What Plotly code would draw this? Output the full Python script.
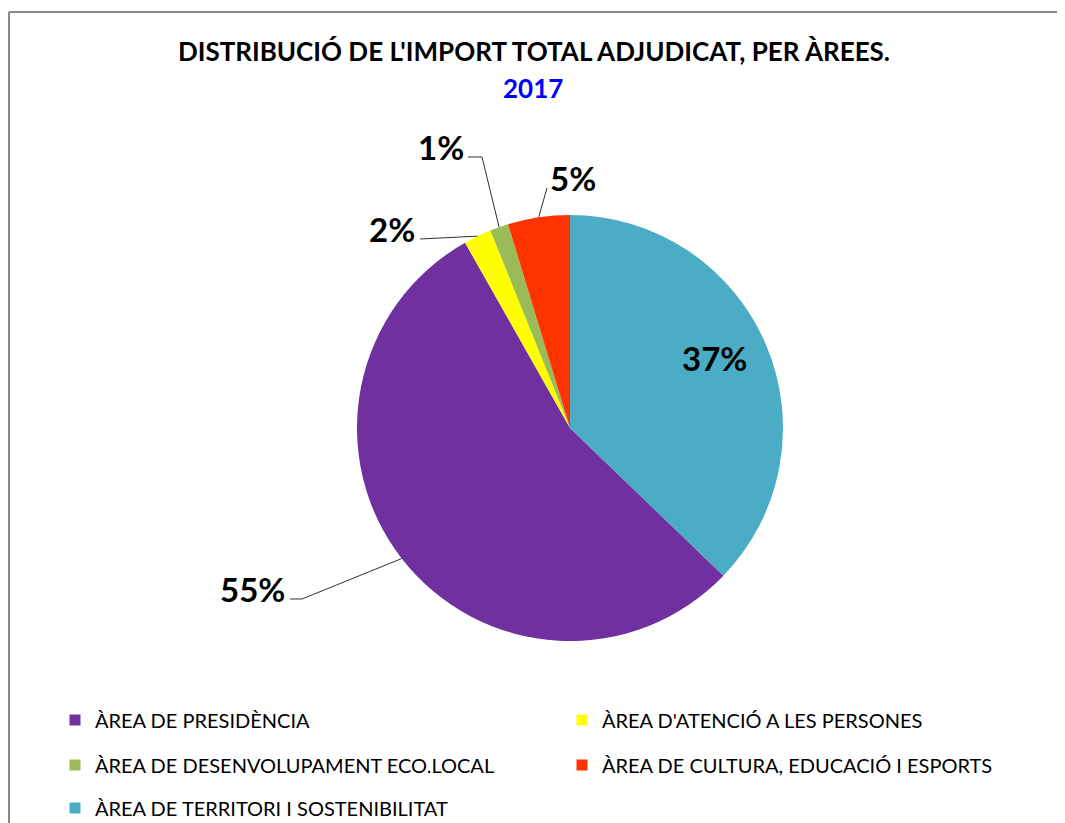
import math
import plotly.graph_objects as go

# ---------------- data ----------------
categories = [
    "ÀREA DE PRESIDÈNCIA",
    "ÀREA D'ATENCIÓ A LES PERSONES",
    "ÀREA DE DESENVOLUPAMENT ECO.LOCAL",
    "ÀREA DE CULTURA, EDUCACIÓ I ESPORTS",
    "ÀREA DE TERRITORI I SOSTENIBILITAT",
]
shares = [54.6, 2.1, 1.4, 4.7, 37.2]
colors = ["#7030A0", "#FFFF00", "#9BBB59", "#FF3300", "#4BACC6"]
title_text = "DISTRIBUCIÓ DE L'IMPORT TOTAL ADJUDICAT, PER ÀREES."
year_text = "2017"

# ---------------- layout constants (page pixels) ----------------
OFF = 8                      # default page body margin
W, H = 1065 - OFF, 823 - OFF
CX, CY, R = 570, 428, 213
FONT = "Lato"

def px(x):
    return (x - OFF) / W

def py(y):
    return 1 - (y - OFF) / H

total = sum(shares)
rotation = 360 * shares[-1] / total  # last slice ends at 12 o'clock

fig = go.Figure()
fig.add_trace(go.Pie(
    labels=categories,
    values=shares,
    marker=dict(colors=colors, line=dict(width=0)),
    sort=False,
    direction="clockwise",
    rotation=rotation,
    textinfo="none",
    hoverinfo="label+percent",
    showlegend=False,
    domain=dict(x=[px(CX - R), px(CX + R)], y=[py(CY + R), py(CY - R)]),
))

# legend entries (two per row, three rows)
legend_ids = ["legend", "legend", "legend2", "legend2", "legend3"]
for name, col, lg in zip(categories, colors, legend_ids):
    fig.add_trace(go.Scatter(
        x=[None], y=[None], mode="markers", name=name,
        marker=dict(symbol="square", size=11, color=col),
        legend=lg, showlegend=True,
    ))

# percentage label positions and leader line starts (page pixels)
label_pos = [(252, 589), (392, 229), (441, 147), (573, 178), (714, 358)]
leader_starts = [[(290, 599), (302, 599)], [(420, 239)], [(468, 157), (482, 157)], [(547, 188)], None]

annotations = []
shapes = []
start = rotation
for v, pos, lead in zip(shares, label_pos, leader_starts):
    ang = start + 360 * v / total / 2
    start += 360 * v / total
    pct = f"{v / total:.0%}"
    annotations.append(dict(
        x=px(pos[0]), y=py(pos[1]), xref="paper", yref="paper",
        text=f"<b>{pct}</b>", showarrow=False,
        xanchor="center", yanchor="middle",
        font=dict(family=FONT, size=33, color="#000000"),
    ))
    if lead:
        a = math.radians(ang)
        ex = CX + R * math.sin(a)
        ey = CY - R * math.cos(a)
        pts = lead + [(ex, ey)]
        path = "M " + " L ".join(f"{px(x):.5f},{py(y):.5f}" for x, y in pts)
        shapes.append(dict(type="path", path=path, xref="paper", yref="paper",
                           line=dict(color="#303030", width=1)))

annotations.append(dict(
    x=px(533), y=py(88), xref="paper", yref="paper",
    text=f"<b>{year_text}</b>", showarrow=False,
    xanchor="center", yanchor="middle",
    font=dict(family=FONT, size=26, color="#0000FF"),
))

# chart border (left and top)
shapes.append(dict(type="line", xref="paper", yref="paper",
                   x0=px(9), x1=px(9), y0=py(12), y1=0,
                   line=dict(color="#878787", width=2)))
shapes.append(dict(type="line", xref="paper", yref="paper",
                   x0=px(9), x1=1, y0=py(12), y1=py(12),
                   line=dict(color="#878787", width=2)))

legend_common = dict(
    orientation="h", xanchor="left", yanchor="middle",
    entrywidth=462, entrywidthmode="pixels",
    font=dict(family=FONT, size=20, color="#000000"),
    bgcolor="rgba(0,0,0,0)", itemclick=False, itemdoubleclick=False,
)

fig.update_layout(
    width=W, height=H,
    margin=dict(l=0, r=0, t=0, b=0, autoexpand=False),
    paper_bgcolor="#FFFFFF", plot_bgcolor="#FFFFFF",
    title=dict(
        text=f"<b>{title_text}</b>",
        x=px(534), xanchor="center", y=py(52), yanchor="middle",
        xref="paper", yref="paper",
        font=dict(family=FONT, size=26, color="#000000"),
    ),
    xaxis=dict(visible=False), yaxis=dict(visible=False),
    legend=dict(x=px(55), y=py(720), **legend_common),
    legend2=dict(x=px(55), y=py(765), **legend_common),
    legend3=dict(x=px(55), y=py(808), **legend_common),
    annotations=annotations,
    shapes=shapes,
)

fig.write_html("out.html")
